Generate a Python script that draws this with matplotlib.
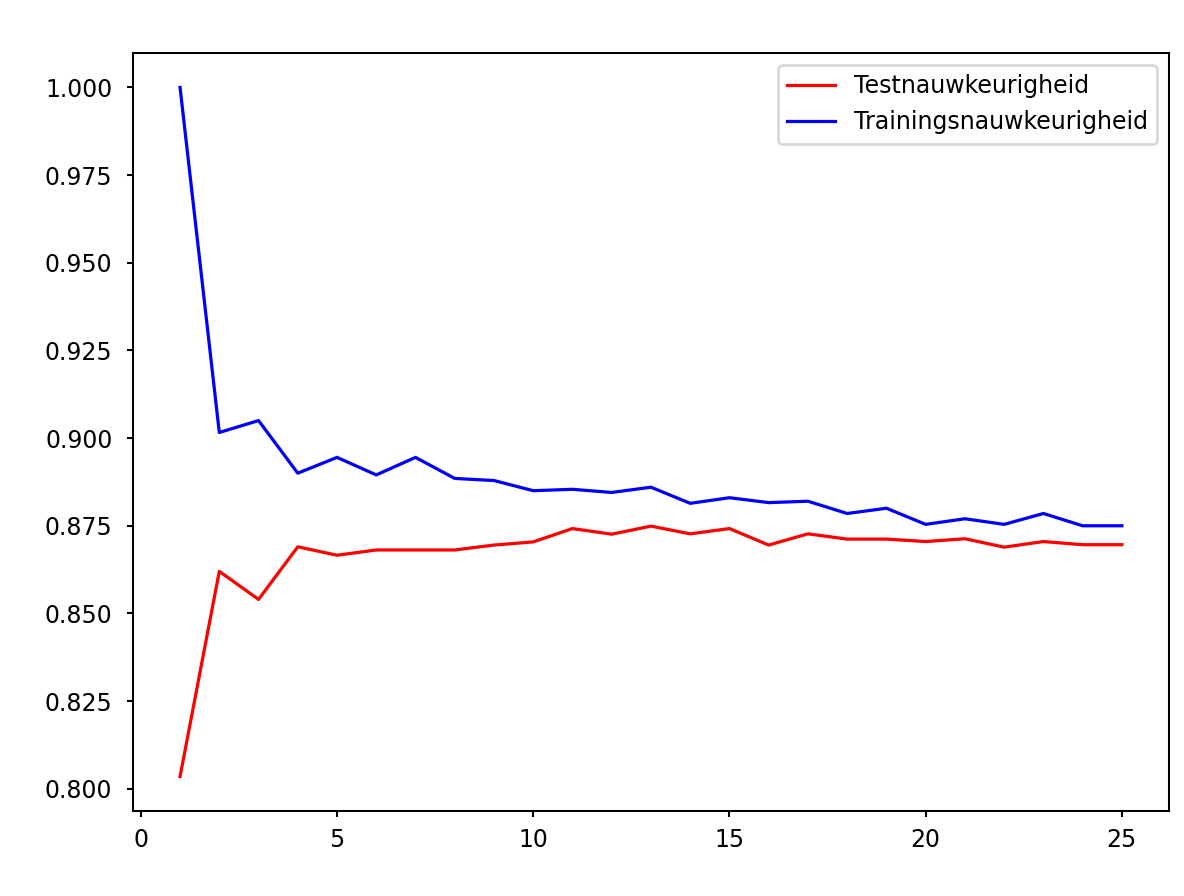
import numpy as np
import matplotlib
matplotlib.use('Agg')
import matplotlib.pyplot as plt

plt.rcParams['font.size'] = 9.2

# accuracy per k
k_values = list(range(1, 26))
test_acc = [0.8035, 0.862, 0.854, 0.869, 0.8666, 0.8681, 0.8681, 0.8681, 0.8695, 0.8704,
            0.8742, 0.8726, 0.8749, 0.8727, 0.8742, 0.8695, 0.8727, 0.8712, 0.8712, 0.8705,
            0.8713, 0.8689, 0.8705, 0.8696, 0.8696]
train_acc = [1.0, 0.9016, 0.905, 0.890, 0.8945, 0.8895, 0.8945, 0.8885, 0.8879, 0.885,
             0.8854, 0.8845, 0.886, 0.8814, 0.883, 0.8816, 0.882, 0.8785, 0.880, 0.8754,
             0.877, 0.8754, 0.8785, 0.875, 0.875]

fig = plt.figure(figsize=(6.4, 896 / 185), dpi=185)
ax = fig.add_axes([0.1123, 0.0949, 0.875, 0.846])

ax.plot(k_values, test_acc, color='red', lw=1.25, label='Testnauwkeurigheid')
ax.plot(k_values, train_acc, color='blue', lw=1.25, label='Trainingsnauwkeurigheid')
ax.tick_params(axis='y', length=2.5, pad=5.5)
ax.tick_params(axis='x', length=2.5, pad=4)
ax.legend()

plt.savefig('out.png', dpi=185)
